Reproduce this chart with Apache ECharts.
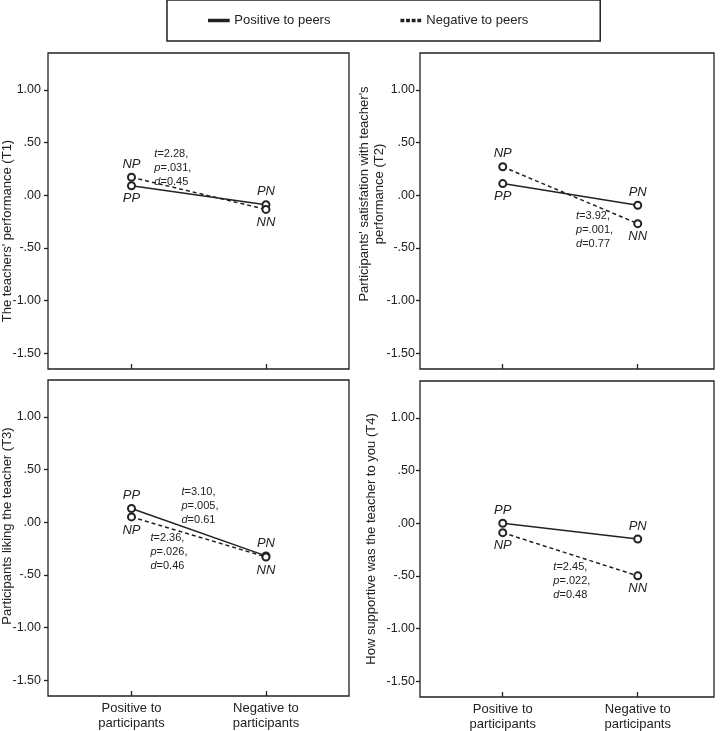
<!DOCTYPE html>
<html>
<head>
<meta charset="utf-8">
<script src="https://cdn.jsdelivr.net/npm/echarts@6/dist/echarts.min.js"></script>
<style>
html,body{margin:0;padding:0;background:#fff;}
#chart{width:721px;height:731px;}
</style>
</head>
<body>
<div id="chart"></div>
<script>
// ---- data ----
const xCategories = ['Positive to\nparticipants', 'Negative to\nparticipants'];
const seriesNames = ['Positive to peers', 'Negative to peers'];
const solidPointLabels = ['PP', 'PN'];
const dashedPointLabels = ['NP', 'NN'];
const yTickValues = [-1.5, -1, -0.5, 0, 0.5, 1];
const yTickLabels = ['-1.50', '-1.00', '-.50', '.00', '.50', '1.00'];
const yAxisTitles = [
  "The teachers' performance (T1)",
  "Participants' satisfation with teacher's\nperformance (T2)",
  "Participants liking the teacher (T3)",
  "How supportive was the teacher to you (T4)"
];
const t1Positive = [0.09, -0.09];
const t1Negative = [0.17, -0.135];
const t2Positive = [0.11, -0.095];
const t2Negative = [0.27, -0.27];
const t3Positive = [0.13, -0.32];
const t3Negative = [0.05, -0.33];
const t4Positive = [0.00, -0.15];
const t4Negative = [-0.09, -0.50];
const statsT1 = [['2.28', '.031', '0.45']];
const statsT2 = [['3.92', '.001', '0.77']];
const statsT3 = [['3.10', '.005', '0.61'], ['2.36', '.026', '0.46']];
const statsT4 = [['2.45', '.022', '0.48']];

// ---- layout / style ----
const FONT = "'Liberation Sans', Arial, sans-serif";
const INK = '#222';
const panels = [
  { pos: t1Positive, neg: t1Negative, stats: statsT1, grid: {left: 48, top: 53, width: 301, height: 316},
    xMin: -0.621, xMax: 1.618, showX: false, nameGap: 33, shift: 20, labelMargin: 7,
    solidPos: ['bottom', 'top'], dashedPos: ['top', 'bottom'], anchors: [[0.17, 0.26]] },
  { pos: t2Positive, neg: t2Negative, stats: statsT2, grid: {left: 420, top: 53, width: 294, height: 316},
    xMin: -0.613, xMax: 1.565, showX: false, nameGap: 33, shift: -17, labelMargin: 5,
    solidPos: ['bottom', 'top'], dashedPos: ['top', 'bottom'], anchors: [[0.543, -0.333]] },
  { pos: t3Positive, neg: t3Negative, stats: statsT3, grid: {left: 48, top: 380, width: 301, height: 316},
    xMin: -0.621, xMax: 1.618, showX: true, nameGap: 33, shift: -12, labelMargin: 7,
    solidPos: ['top', 'top'], dashedPos: ['bottom', 'bottom'], anchors: [[0.372, 0.151], [0.141, -0.284]] },
  { pos: t4Positive, neg: t4Negative, stats: statsT4, grid: {left: 420, top: 381, width: 294, height: 316},
    xMin: -0.613, xMax: 1.565, showX: true, nameGap: 41, shift: 0, labelMargin: 5,
    solidPos: ['top', 'top'], dashedPos: ['bottom', 'bottom'], anchors: [[0.375, -0.546]] }
];

const grids = [], xAxes = [], yAxes = [], series = [];
panels.forEach((p, i) => {
  grids.push(Object.assign({ show: true, borderColor: INK, borderWidth: 1.3, backgroundColor: 'transparent',
    containLabel: false, outerBoundsMode: 'none' }, p.grid));
  xAxes.push({
    type: 'value', gridIndex: i, min: p.xMin, max: p.xMax, position: 'bottom',
    axisLine: { show: false, onZero: false }, splitLine: { show: false },
    axisTick: { show: true, inside: true, length: 5, customValues: [0, 1], lineStyle: { color: INK, width: 1.3 } },
    axisLabel: { show: p.showX, customValues: [0, 1], margin: 5, fontFamily: FONT, fontSize: 13, lineHeight: 15, color: INK,
      formatter: v => xCategories[Math.round(v)] }
  });
  const s = p.shift;
  yAxes.push({
    type: 'value', gridIndex: i, min: -1.65, max: 1.35, position: 'left',
    axisLine: { show: false, onZero: false }, splitLine: { show: false },
    axisTick: { show: true, inside: false, length: 4, customValues: yTickValues, lineStyle: { color: INK, width: 1.3 } },
    axisLabel: { customValues: yTickValues, margin: p.labelMargin, fontFamily: FONT, fontSize: 12.5, color: INK,
      formatter: v => yTickLabels[yTickValues.indexOf(Math.round(v * 100) / 100)] },
    name: yAxisTitles[i], nameLocation: 'middle', nameGap: p.nameGap, nameMoveOverlap: false,
    nameTextStyle: { fontFamily: FONT, fontSize: 13, color: INK, lineHeight: 15,
      padding: s > 0 ? [0, 2 * s, 0, 0] : [0, 0, 0, -2 * s] }
  });
  const mkLine = (vals, name, labels, positions, dashed, withMarks) => {
    const o = {
      type: 'line', name: name, xAxisIndex: i, yAxisIndex: i,
      data: vals.map((v, k) => ({ value: [k, v], label: { position: positions[k] } })),
      symbol: 'emptyCircle', symbolSize: 7,
      itemStyle: { color: INK, borderColor: INK, borderWidth: 1.3 },
      lineStyle: { color: INK, width: 1.5, type: dashed ? [4, 3] : 'solid' },
      label: { show: true, distance: 2, fontFamily: FONT, fontSize: 13, fontStyle: 'italic', color: INK,
        formatter: prm => labels[prm.dataIndex] },
      z: 3
    };
    if (withMarks) {
      o.markPoint = {
        symbol: 'circle', symbolSize: 0, itemStyle: { color: 'rgba(0,0,0,0)' },
        data: p.stats.map((st, k) => ({
          coord: p.anchors[k], value: 0,
          label: { formatter: '{i|t}=' + st[0] + ',\n{i|p}=' + st[1] + ',\n{i|d}=' + st[2] }
        })),
        label: { show: true, position: 'right', distance: 0, align: 'left', verticalAlign: 'middle',
          fontFamily: FONT, fontSize: 11, lineHeight: 14, color: INK,
          rich: { i: { fontFamily: FONT, fontSize: 11, lineHeight: 14, fontStyle: 'italic', color: INK } } }
      };
    }
    return o;
  };
  series.push(mkLine(p.pos, seriesNames[0], solidPointLabels, p.solidPos, false, false));
  series.push(mkLine(p.neg, seriesNames[1], dashedPointLabels, p.dashedPos, true, true));
});

const option = {
  animation: false,
  backgroundColor: '#fff',
  textStyle: { fontFamily: FONT },
  legend: {
    left: 167, top: 0,
    padding: [13, 72, 13, 41],
    itemGap: 70, itemWidth: 21, itemHeight: 1.5,
    borderColor: INK, borderWidth: 1.5,
    textStyle: { fontFamily: FONT, fontSize: 13, color: INK, lineHeight: 15 },
    data: [
      { name: seriesNames[0], icon: 'path://M0,0H21V1.6H0Z' },
      { name: seriesNames[1], icon: 'path://M0,0H2V1.6H0Z M6,0H8V1.6H6Z M12,0H14V1.6H12Z M18,0H20V1.6H18Z' }
    ]
  },
  grid: grids, xAxis: xAxes, yAxis: yAxes, series: series
};
const chart = echarts.init(document.getElementById('chart'), null, { renderer: 'canvas' });
chart.setOption(option);
</script>
</body>
</html>
